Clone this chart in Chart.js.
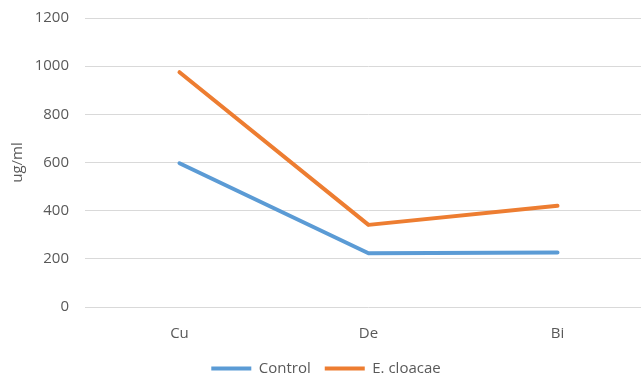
<!DOCTYPE html>
<html>
<head>
<meta charset="utf-8">
<script src="https://cdn.jsdelivr.net/npm/chart.js@4/dist/chart.umd.min.js"></script>
<style>
  html, body { margin: 0; padding: 0; background: #fff; overflow: hidden; }
  #wrap { width: 652px; height: 393px; position: relative; margin-top: -7px; }
</style>
</head>
<body>
<div id="wrap"><canvas id="c"></canvas></div>
<script>
const categories = ['Cu', 'De', 'Bi'];
const controlValues = [597, 223, 226];
const cloacaeValues = [975, 341, 420];
const yTicks = [0, 200, 400, 600, 800, 1000, 1200];

const FONT = "'Open Sans', sans-serif";
const TXT = '#595959';

new Chart(document.getElementById('c'), {
  type: 'line',
  data: {
    labels: categories,
    datasets: [
      { label: 'Control', data: controlValues, borderColor: '#5B9BD5', backgroundColor: '#5B9BD5',
        borderWidth: 4, pointRadius: 0, tension: 0, borderCapStyle: 'round', borderJoinStyle: 'round' },
      { label: 'E. cloacae', data: cloacaeValues, borderColor: '#ED7D31', backgroundColor: '#ED7D31',
        borderWidth: 4, pointRadius: 0, tension: 0, borderCapStyle: 'round', borderJoinStyle: 'round' }
    ]
  },
  options: {
    responsive: true,
    maintainAspectRatio: false,
    animation: false,
    layout: { padding: { top: 12, left: 0, right: 0, bottom: 0 } },
    plugins: {
      tooltip: { enabled: false },
      legend: {
        position: 'bottom',
        labels: {
          font: { family: FONT, size: 15 }, color: TXT,
          boxWidth: 40, boxHeight: 4, padding: 14,
          generateLabels: chart => {
            const items = Chart.defaults.plugins.legend.labels.generateLabels(chart);
            items.forEach(it => { it.lineWidth = 0; });
            return items;
          }
        }
      }
    },
    scales: {
      x: {
        offset: true,
        grid: { display: false, drawTicks: false },
        border: { display: false },
        ticks: { font: { family: FONT, size: 15 }, color: TXT, padding: 18 },
        afterFit: s => { s.height = 40; }
      },
      y: {
        min: 0, max: 1200,
        afterBuildTicks: s => { s.ticks = yTicks.map(v => ({ value: v })); },
        grid: { color: '#D9D9D9', lineWidth: 1, drawTicks: false },
        border: { display: false },
        ticks: { font: { family: FONT, size: 15 }, color: TXT, padding: 16, callback: v => String(v) },
        title: { display: true, text: 'ug/ml', font: { family: FONT, size: 15 }, color: TXT, padding: { top: 9, bottom: 0 } },
        afterFit: s => { s.width = 85; }
      }
    }
  }
});
</script>
</body>
</html>
